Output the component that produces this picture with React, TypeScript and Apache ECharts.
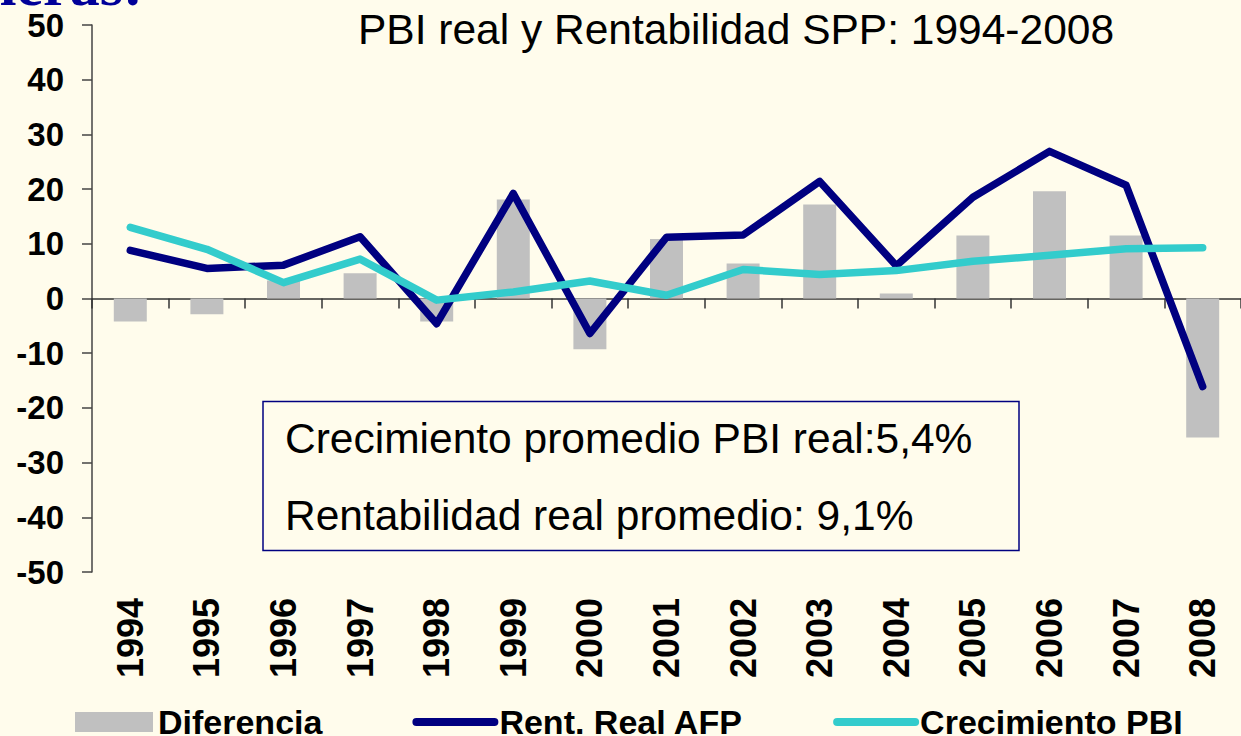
import React, { useEffect, useRef } from "react";
import * as echarts from "echarts";

const years = ["1994", "1995", "1996", "1997", "1998", "1999", "2000", "2001", "2002", "2003", "2004", "2005", "2006", "2007", "2008"];
const diferencia = [-4.2, -2.9, 3.3, 4.6, -4.2, 18.1, -9.3, 10.9, 6.4, 17.2, 0.9, 11.5, 19.6, 11.5, -25.4];
const rentRealAFP = [8.8, 5.5, 6.1, 11.3, -4.6, 19.2, -6.4, 11.2, 11.6, 21.4, 6.0, 18.5, 26.9, 20.7, -16.1];
const crecimientoPBI = [13.0, 9.0, 2.9, 7.2, -0.3, 1.2, 3.2, 0.6, 5.3, 4.4, 5.1, 6.8, 7.9, 9.1, 9.3];
const yTicks = { min: -50, max: 50, interval: 10 };
const titleText = "PBI real y Rentabilidad SPP: 1994-2008";
const boxLines = ["Crecimiento promedio PBI real:5,4%", "Rentabilidad real promedio: 9,1%"];
const cornerText = "ieras:";

const BG = "#FFFCEC";
const FONT = "'Liberation Sans', Arial, sans-serif";
const NAVY = "#000080";
const CYAN = "#33CCCC";

export default function App() {
  const ref = useRef<HTMLDivElement>(null);
  useEffect(() => {
    if (!ref.current) return;
    const chart = echarts.init(ref.current, undefined, { renderer: "svg" });
    chart.setOption({
      animation: false,
      backgroundColor: BG,
      title: {
        text: titleText,
        left: 358,
        top: 8,
        padding: 0,
        textStyle: { fontFamily: FONT, fontSize: 42.5, fontWeight: "normal", color: "#000" },
      },
      legend: {
        left: 75,
        top: 705,
        itemGap: 90,
        itemWidth: 78,
        itemHeight: 20,
        padding: 0,
        textStyle: { fontFamily: FONT, fontSize: 34, fontWeight: "bold", color: "#000", lineHeight: 34 },
        data: [
          { name: "Diferencia", icon: "rect" },
          {
            name: "Rent. Real AFP",
            itemStyle: { opacity: 0 },
            lineStyle: { color: NAVY, width: 8, cap: "round" },
          },
          {
            name: "Crecimiento PBI",
            itemStyle: { opacity: 0 },
            lineStyle: { color: CYAN, width: 8, cap: "round" },
          },
        ],
      },
      grid: { left: 92, right: -13, top: 25, bottom: 164, containLabel: false },
      xAxis: [
        {
          type: "category",
          data: years,
          position: "top",
          boundaryGap: true,
          axisLine: { show: true, onZero: true, lineStyle: { color: "#333", width: 1.5 } },
          axisTick: { show: true, inside: true, length: 10, interval: 0, lineStyle: { color: "#333", width: 1.5 } },
          axisLabel: { show: false },
          splitLine: { show: false },
        },
        {
          type: "category",
          data: years,
          position: "bottom",
          boundaryGap: true,
          axisLine: { show: false, onZero: false },
          axisTick: { show: false },
          axisLabel: {
            show: true,
            interval: 0,
            rotate: 90,
            margin: 26,
            fontFamily: FONT,
            fontSize: 36,
            fontWeight: "bold",
            color: "#000",
          },
          splitLine: { show: false },
        },
      ],
      yAxis: {
        type: "value",
        min: yTicks.min,
        max: yTicks.max,
        interval: yTicks.interval,
        axisLine: { show: true, lineStyle: { color: "#444", width: 1.5 } },
        axisTick: { show: true, length: 10, lineStyle: { color: "#444", width: 1.5 } },
        axisLabel: { margin: 28, fontFamily: FONT, fontSize: 33, fontWeight: "bold", color: "#000" },
        splitLine: { show: false },
      },
      series: [
        {
          name: "Diferencia",
          type: "bar",
          xAxisIndex: 0,
          data: diferencia,
          barWidth: 33,
          itemStyle: { color: "#C0C0C0" },
          z: 1,
        },
        {
          name: "Rent. Real AFP",
          type: "line",
          xAxisIndex: 0,
          data: rentRealAFP,
          symbol: "none",
          lineStyle: { color: NAVY, width: 7.5, cap: "round", join: "round" },
          itemStyle: { color: NAVY },
          z: 3,
        },
        {
          name: "Crecimiento PBI",
          type: "line",
          xAxisIndex: 0,
          data: crecimientoPBI,
          symbol: "none",
          lineStyle: { color: CYAN, width: 7.5, cap: "round", join: "round" },
          itemStyle: { color: CYAN },
          z: 4,
        },
      ],
      graphic: [
        {
          type: "text",
          right: 1241 - 143,
          top: -45,
          style: {
            text: cornerText,
            font: "bold 60px 'Liberation Serif', 'Times New Roman', serif",
            fill: "#000099",
          },
          z: 10,
        },
        {
          type: "rect",
          shape: { x: 263, y: 401.5, width: 756, height: 149 },
          style: { fill: BG, stroke: NAVY, lineWidth: 1.5 },
          z: 10,
        },
        {
          type: "text",
          x: 285,
          y: 438,
          style: {
            text: boxLines[0],
            font: "42.5px 'Liberation Sans', Arial, sans-serif",
            fill: "#000",
            verticalAlign: "middle",
          },
          z: 11,
        },
        {
          type: "text",
          x: 285,
          y: 515,
          style: {
            text: boxLines[1],
            font: "42.5px 'Liberation Sans', Arial, sans-serif",
            fill: "#000",
            verticalAlign: "middle",
          },
          z: 11,
        },
      ],
    });
    return () => chart.dispose();
  }, []);
  return (
    <div
      ref={ref}
      style={{ position: "fixed", left: 0, top: 0, width: 1241, height: 736, overflow: "hidden" }}
    />
  );
}
